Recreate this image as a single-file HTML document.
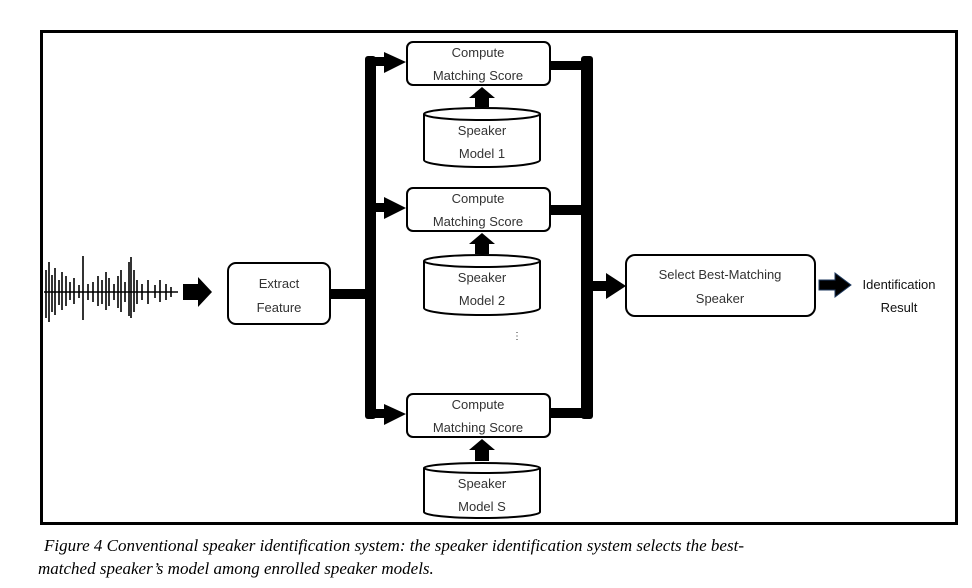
<!DOCTYPE html>
<html><head><meta charset="utf-8"><style>
body{margin:0;background:#fff;width:972px;height:588px;overflow:hidden}
svg{display:block}
.t{font-family:"Liberation Sans",sans-serif;font-size:13px;fill:#333;text-anchor:middle}
.c{font-family:"Liberation Serif",serif;font-style:italic;font-size:17px;fill:#000}
</style></head><body>
<svg width="972" height="588" viewBox="0 0 972 588">
<rect x="41.5" y="31.5" width="915" height="492" fill="#fff" stroke="#000" stroke-width="3"/>
<g stroke="#000" stroke-width="1.6">
<line x1="44" y1="292" x2="178" y2="292"/>
<line x1="46" y1="270" x2="46" y2="318"/><line x1="49" y1="262" x2="49" y2="322"/><line x1="52" y1="275" x2="52" y2="312"/><line x1="55" y1="268" x2="55" y2="315"/><line x1="59" y1="280" x2="59" y2="305"/><line x1="62" y1="272" x2="62" y2="310"/><line x1="66" y1="276" x2="66" y2="306"/><line x1="70" y1="282" x2="70" y2="300"/><line x1="74" y1="278" x2="74" y2="304"/><line x1="79" y1="285" x2="79" y2="298"/><line x1="83" y1="256" x2="83" y2="320"/><line x1="88" y1="284" x2="88" y2="300"/><line x1="93" y1="282" x2="93" y2="302"/><line x1="98" y1="276" x2="98" y2="306"/><line x1="102" y1="280" x2="102" y2="304"/><line x1="106" y1="272" x2="106" y2="310"/><line x1="109" y1="278" x2="109" y2="306"/><line x1="114" y1="284" x2="114" y2="300"/><line x1="118" y1="276" x2="118" y2="308"/><line x1="121" y1="270" x2="121" y2="312"/><line x1="125" y1="282" x2="125" y2="302"/><line x1="129" y1="262" x2="129" y2="316"/><line x1="131" y1="257" x2="131" y2="318"/><line x1="134" y1="270" x2="134" y2="312"/><line x1="137" y1="280" x2="137" y2="304"/><line x1="142" y1="284" x2="142" y2="300"/><line x1="148" y1="280" x2="148" y2="304"/><line x1="155" y1="285" x2="155" y2="298"/><line x1="160" y1="280" x2="160" y2="302"/><line x1="166" y1="284" x2="166" y2="300"/><line x1="171" y1="287" x2="171" y2="297"/>
</g>
<polygon points="183,284 198,284 198,277 212,292 198,307 198,300 183,300" fill="#000"/>
<rect x="228" y="263" width="102" height="61" rx="8" fill="#fff" stroke="#000" stroke-width="2"/>
<text class="t" x="279" y="288">Extract</text><text class="t" x="279" y="312">Feature</text>
<rect x="330" y="289" width="40" height="10" fill="#000"/>
<rect x="365" y="56" width="11" height="363" rx="3" fill="#000"/>
<rect x="581" y="56" width="12" height="363" rx="3" fill="#000"/>
<g fill="#000">
<rect x="370" y="57" width="16" height="9"/><polygon points="384,52 406,62 384,73"/>
<rect x="370" y="203" width="16" height="9"/><polygon points="384,197 406,208 384,219"/>
<rect x="370" y="409" width="16" height="9"/><polygon points="384,404 406,414 384,425"/>
<rect x="550" y="61" width="36" height="9"/>
<rect x="550" y="205" width="36" height="10"/>
<rect x="550" y="408" width="36" height="10"/>
<rect x="593" y="281" width="15" height="10"/><polygon points="606,273 626,286 606,299"/>
</g>
<g fill="#fff" stroke="#000" stroke-width="2">
<rect x="407" y="42" width="143" height="43" rx="6"/>
<rect x="407" y="188" width="143" height="43" rx="6"/>
<rect x="407" y="394" width="143" height="43" rx="6"/>
</g>
<text class="t" x="478" y="57">Compute</text><text class="t" x="478" y="80">Matching Score</text>
<text class="t" x="478" y="203">Compute</text><text class="t" x="478" y="226">Matching Score</text>
<text class="t" x="478" y="409">Compute</text><text class="t" x="478" y="432">Matching Score</text>
<g fill="#fff" stroke="#000" stroke-width="2">
<path d="M424,114 V160 A58,7 0 0 0 540,160 V114"/><ellipse cx="482" cy="114" rx="58" ry="6"/>
<path d="M424,261 V308 A58,7 0 0 0 540,308 V261"/><ellipse cx="482" cy="261" rx="58" ry="6"/>
<path d="M424,468 V512 A58,6 0 0 0 540,512 V468"/><ellipse cx="482" cy="468" rx="58" ry="5"/>
</g>
<g fill="#000">
<polygon points="469,98 482,87 495,98 489,98 489,107 475,107 475,98"/>
<polygon points="469,244 482,233 495,244 489,244 489,254 475,254 475,244"/>
<polygon points="469,450 482,439 495,450 489,450 489,461 475,461 475,450"/>
</g>
<text class="t" x="482" y="135">Speaker</text><text class="t" x="482" y="158">Model 1</text>
<text class="t" x="482" y="282">Speaker</text><text class="t" x="482" y="305">Model 2</text>
<text class="t" x="482" y="488">Speaker</text><text class="t" x="482" y="511">Model S</text>
<text class="t" x="517" y="339" style="font-size:10px">⋮</text>
<rect x="626" y="255" width="189" height="61" rx="9" fill="#fff" stroke="#000" stroke-width="2"/>
<text class="t" x="720" y="279">Select Best-Matching</text><text class="t" x="720" y="303">Speaker</text>
<polygon points="819,280 835,280 835,273 851,285 835,297 835,290 819,290" fill="#000" stroke="#1f3a5f" stroke-width="1"/>
<text class="t" x="899" y="289" style="fill:#111">Identification</text><text class="t" x="899" y="312" style="fill:#111">Result</text>
<text class="c" x="44" y="551">Figure 4 Conventional speaker identification system: the speaker identification system selects the best-</text>
<text class="c" x="38" y="574">matched speaker’s model among enrolled speaker models.</text>
</svg>
</body></html>
